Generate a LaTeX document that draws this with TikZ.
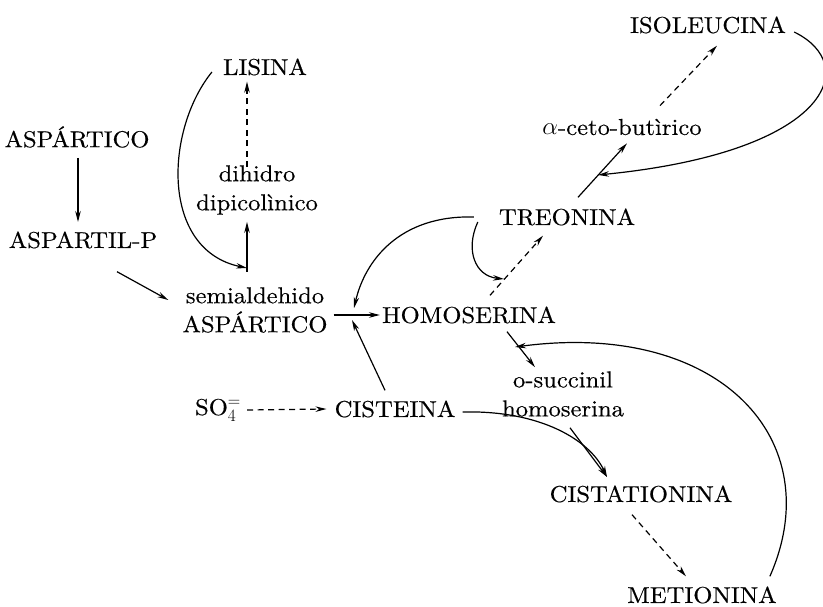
\documentclass[tikz,border=0pt]{standalone}
\usepackage{fontspec}
\setmainfont{lmroman10-regular}[Extension=.otf, FakeStretch=1.07, FakeBold=0.4]
\usetikzlibrary{arrows.meta,calc}

\tikzset{
  lbl/.style={inner sep=3pt, align=center, font=\fontsize{23}{29}\selectfont},
  arr/.style={line width=1.2pt, -{Stealth[length=11pt,width=5.5pt]}},
  darr/.style={arr, dash pattern=on 6pt off 4.5pt},
}

\begin{document}
\begin{tikzpicture}[x=1pt,y=-1pt]
\useasboundingbox (0,0) rectangle (823,607);

% compounds
\node[lbl] (asp)    at (77,137)  {ASPÁRTICO};
\node[lbl] (aspp)   at (83,240)  {ASPARTIL-P};
\node[lbl] (semi)   at (255,310) {semialdehido\\ASPÁRTICO};
\node[lbl] (lisina) at (265,67)  {LISINA};
\node[lbl] (dihid)  at (257,190) {dihidro\\dipicolìnico};
\node[lbl] (homo)   at (469,315) {HOMOSERINA};
\node[lbl] (treo)   at (567,217) {TREONINA};
\node[lbl] (iso)    at (708,25)  {ISOLEUCINA};
\node[lbl] (aceto)  at (622,127) {$\alpha$-ceto-butìrico};
\node[lbl] (so4)    at (218,410) {SO$_4^=$};
\node[lbl] (cist)   at (395,409) {CISTEINA};
\node[lbl] (osucc)  at (563,394) {o-succinil\\homoserina};
\node[lbl] (cista)  at (641,494) {CISTATIONINA};
\node[lbl] (metio)  at (702,595) {METIONINA};

% branch points on the connectors
\coordinate (jA) at (352,315);
\coordinate (jL) at (247,268);
\coordinate (jT) at (598,175);
\coordinate (jH) at (504,279);
\coordinate (jS) at (515,347);
\coordinate (jC) at (607,477);

% aspartate branch
\draw[arr] (78,158) -- (78,222);
\draw[arr] ($(aspp.south)+(34,20)$) -- ($(semi.west)+(-11,-10)$);
\draw[arr] ($(semi.east |- jA)+(3,0)$) -- ($(homo.west |- jA)+(1,0)$);

% lysine branch
\draw[arr] ($(jL)+(0,4)$) -- ($(jL |- dihid.south)+(0,4)$);
\draw[darr] ($(jL |- dihid.north)+(0,5)$) -- ($(jL |- lisina.south)+(0,3)$);
\draw[arr] ($(lisina.west)+(-8,5)$) .. controls (165,130) and (160,250) .. (jL);

% threonine / isoleucine branch
\draw[darr] ($(homo.north)+(21,-8)$) -- ($(treo.south)+(-24,7)$);
\draw[arr] ($(treo.west)+(-18,5)$) .. controls (465,250) and (475,276) .. (jH);
\draw[arr] ($(treo.west)+(-22,0)$) .. controls (400,215) and (365,260) .. ($(jA)+(2,-7)$);
\draw[arr] ($(treo.north)+(11,-8)$) -- ($(aceto.south)+(5,5)$);
\draw[darr] ($(aceto.north)+(38,-10)$) -- ($(iso.south)+(9,9)$);
\draw[arr] ($(iso.east)+(5,7)$) .. controls (862,65) and (830,152) .. (jT);

% sulphur branch
\draw[darr] ($(so4.east)+(3,0)$) -- ($(cist.west)+(-5,0)$);
\draw[arr] ($(cist.north)+(-10,-7)$) -- ($(jA)+(0,5)$);
\draw[arr] ($(cist.east)+(4,3)$) .. controls (540,410) and (590,440) .. (jC);

% methionine branch
\draw[arr] ($(homo.south)+(38,5)$) -- ($(osucc.north)+(-28,-1)$);
\draw[arr] ($(osucc.south)+(7,8)$) -- (jC);
\draw[darr] ($(cista.south)+(-9,9)$) -- ($(metio.north)+(-16,-7)$);
\draw[arr] ($(metio.north east)+(-10,-7)$) .. controls (830,440) and (720,320) .. (jS);
\end{tikzpicture}
\end{document}
